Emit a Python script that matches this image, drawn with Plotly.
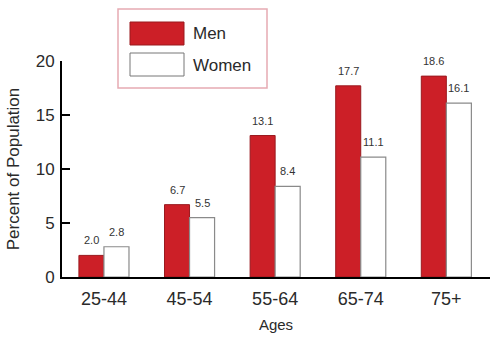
import plotly.graph_objects as go

categories = ["25-44", "45-54", "55-64", "65-74", "75+"]
men = [2.0, 6.7, 13.1, 17.7, 18.6]
women = [2.8, 5.5, 8.4, 11.1, 16.1]
y_ticks = [0, 5, 10, 15, 20]

FONT = "Liberation Sans, Arial, sans-serif"
RED = "#cc1f27"
TXT = "#2a2a2a"

L, R, T, B = 62, 490, 61, 277
def px(x):
    return (x - L) / (R - L)
def py(y):
    return (B - y) / (B - T)

fig = go.Figure()
fig.add_trace(go.Bar(
    x=categories, y=men, name="Men",
    marker=dict(color=RED, line=dict(color="#9a1a1f", width=1)),
    showlegend=False,
))
fig.add_trace(go.Bar(
    x=categories, y=women, name="Women",
    marker=dict(color="white", line=dict(color="#8a8a8a", width=1.2)),
    showlegend=False,
))

annotations = []
for series, shift in ((men, -12.5), (women, 12.5)):
    for c, v in zip(categories, series):
        annotations.append(dict(
            x=c, y=v, xref="x", yref="y", text=f"{v:.1f}", showarrow=False,
            xshift=shift, yshift=15, yanchor="middle", xanchor="center",
            font=dict(size=11, color="#333333", family=FONT)))

shapes = [
    dict(type="rect", xref="paper", yref="paper",
         x0=px(118), x1=px(267), y0=py(88), y1=py(9),
         line=dict(color="#e6aab3", width=1.5), fillcolor="rgba(0,0,0,0)"),
    dict(type="rect", xref="paper", yref="paper",
         x0=px(130), x1=px(184), y0=py(45), y1=py(22),
         line=dict(color="#9a1a1f", width=1), fillcolor=RED),
    dict(type="rect", xref="paper", yref="paper",
         x0=px(130), x1=px(184), y0=py(76), y1=py(53),
         line=dict(color="#777777", width=1), fillcolor="white"),
]
annotations += [
    dict(xref="paper", yref="paper", x=px(191), y=py(33), text="Men",
         showarrow=False, xanchor="left", yanchor="middle",
         font=dict(size=17, color=TXT, family=FONT)),
    dict(xref="paper", yref="paper", x=px(191), y=py(65), text="Women",
         showarrow=False, xanchor="left", yanchor="middle",
         font=dict(size=17, color=TXT, family=FONT)),
]

fig.update_layout(
    width=500, height=340,
    margin=dict(l=L, r=500 - R, t=T, b=340 - B),
    paper_bgcolor="white", plot_bgcolor="white",
    barmode="group", bargap=0.415, bargroupgap=0,
    font=dict(family=FONT, color=TXT),
    shapes=shapes, annotations=annotations,
    xaxis=dict(
        range=[-0.49, 4.51], showline=True, linecolor="black", linewidth=2,
        ticks="", showgrid=False, zeroline=False, ticklabelstandoff=4,
        automargin=False,
        tickfont=dict(size=18, color=TXT),
        title=dict(text="Ages", font=dict(size=15, color=TXT), standoff=12),
    ),
    yaxis=dict(
        range=[0, 20], tickvals=y_ticks, showline=True, linecolor="black",
        linewidth=2, ticks="inside", ticklen=8, tickwidth=1.5, tickcolor="black",
        showgrid=False, zeroline=False, ticklabelstandoff=2, automargin=False,
        tickfont=dict(size=17, color=TXT),
        title=dict(text="Percent of Population", font=dict(size=17, color=TXT),
                   standoff=12),
    ),
)

fig.write_html("out.html")
